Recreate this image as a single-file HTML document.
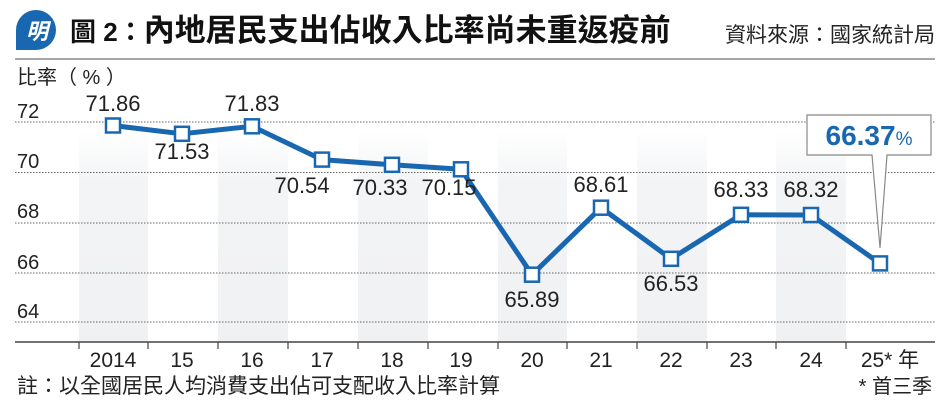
<!DOCTYPE html>
<html><head><meta charset="utf-8"><style>
body{margin:0;background:#fff;}
svg{display:block;font-family:"Liberation Sans","Noto Sans CJK TC",sans-serif;}
</style></head><body>
<svg width="950" height="417" viewBox="0 0 950 417" xmlns="http://www.w3.org/2000/svg">
<defs>
<linearGradient id="g" x1="0" y1="0" x2="0" y2="1">
<stop offset="0" stop-color="#f3f4f6" stop-opacity="0"/>
<stop offset="0.25" stop-color="#f3f4f6"/>
<stop offset="1" stop-color="#f0f1f3"/>
</linearGradient>
</defs>
<path d="M16 30 a20 20 0 1 1 20 20 h-20 z" fill="#1a67b1"/>
<text x="37" y="39" font-size="22" font-weight="bold" fill="#fff" text-anchor="middle" font-style="italic">明</text>
<text x="70" y="41" font-size="26" fill="#111" font-weight="bold">圖 2：<tspan font-size="31">內地居民支出佔收入比率尚未重返疫前</tspan></text>
<text x="935" y="42" font-size="21" fill="#222" text-anchor="end">資料來源：國家統計局</text>
<line x1="15" y1="59" x2="935" y2="59" stroke="#888" stroke-width="1.5"/>
<g fill="url(#g)">
<rect x="79" y="130" width="69" height="212"/>
<rect x="218" y="130" width="70" height="212"/>
<rect x="358" y="130" width="70" height="212"/>
<rect x="498" y="130" width="69" height="212"/>
<rect x="637" y="130" width="70" height="212"/>
<rect x="776" y="130" width="70" height="212"/>
</g>
<g stroke="#666" stroke-width="1" stroke-dasharray="1.5,1.5">
<line x1="15" y1="122" x2="935" y2="122"/>
<line x1="15" y1="172.5" x2="935" y2="172.5"/>
<line x1="15" y1="223" x2="935" y2="223"/>
<line x1="15" y1="273" x2="935" y2="273"/>
<line x1="15" y1="322" x2="935" y2="322"/>
</g>
<line x1="15" y1="342" x2="935" y2="342" stroke="#444" stroke-width="1.5"/>
<g stroke="#444" stroke-width="1.2">
<line x1="79" y1="342" x2="79" y2="349"/><line x1="148" y1="342" x2="148" y2="349"/><line x1="218" y1="342" x2="218" y2="349"/><line x1="288" y1="342" x2="288" y2="349"/><line x1="358" y1="342" x2="358" y2="349"/><line x1="428" y1="342" x2="428" y2="349"/><line x1="498" y1="342" x2="498" y2="349"/><line x1="567" y1="342" x2="567" y2="349"/><line x1="637" y1="342" x2="637" y2="349"/><line x1="707" y1="342" x2="707" y2="349"/><line x1="776" y1="342" x2="776" y2="349"/><line x1="846" y1="342" x2="846" y2="349"/>
</g>
<g font-size="20" fill="#222">
<text x="17" y="84">比率（ % ）</text>
<text x="17" y="118">72</text><text x="17" y="168">70</text><text x="17" y="218">68</text><text x="17" y="269">66</text><text x="17" y="318">64</text>
</g>
<g font-size="21" fill="#222" text-anchor="middle">
<text x="113" y="367">2014</text><text x="182" y="367">15</text><text x="252" y="367">16</text><text x="322" y="367">17</text><text x="392" y="367">18</text><text x="461" y="367">19</text><text x="532" y="367">20</text><text x="601" y="367">21</text><text x="671" y="367">22</text><text x="741" y="367">23</text><text x="811" y="367">24</text><text x="890" y="367">25* 年</text>
</g>
<polyline fill="none" stroke="#1a67b1" stroke-width="5" stroke-linejoin="round" points="113,125.5 182,133.8 252,126.3 322,159.6 392,164.8 461,169.3 532,274.7 601,207.7 671,258.8 741,214.8 811,215 880,263.4"/>
<g fill="#fff" stroke="#1a67b1" stroke-width="2.5">
<rect x="106" y="118.5" width="14" height="14"/><rect x="175" y="126.8" width="14" height="14"/><rect x="245" y="119.3" width="14" height="14"/><rect x="315" y="152.6" width="14" height="14"/><rect x="385" y="157.8" width="14" height="14"/><rect x="454" y="162.3" width="14" height="14"/><rect x="525" y="267.7" width="14" height="14"/><rect x="594" y="200.7" width="14" height="14"/><rect x="664" y="251.8" width="14" height="14"/><rect x="734" y="207.8" width="14" height="14"/><rect x="804" y="208" width="14" height="14"/><rect x="873" y="256.4" width="14" height="14"/>
</g>
<g font-size="22" fill="#222" text-anchor="middle">
<text x="113" y="111">71.86</text><text x="182" y="159">71.53</text><text x="252" y="111">71.83</text><text x="302" y="193">70.54</text><text x="380" y="195">70.33</text><text x="449" y="195">70.15</text><text x="532" y="307">65.89</text><text x="601" y="192">68.61</text><text x="671" y="291">66.53</text><text x="741" y="197">68.33</text><text x="811" y="197">68.32</text>
</g>
<path d="M807 115 H931 V155 H887 L880 248 L872 155 H807 Z" fill="#fff" stroke="#888" stroke-width="1.2"/>
<text x="869" y="145" text-anchor="middle" font-size="28" font-weight="bold" fill="#1a67b1">66.37<tspan font-size="19" font-weight="normal">%</tspan></text>
<text x="17" y="393" font-size="21" fill="#222">註：以全國居民人均消費支出佔可支配收入比率計算</text>
<text x="932" y="393" font-size="20" fill="#222" text-anchor="end">* 首三季</text>
</svg>
</body></html>
